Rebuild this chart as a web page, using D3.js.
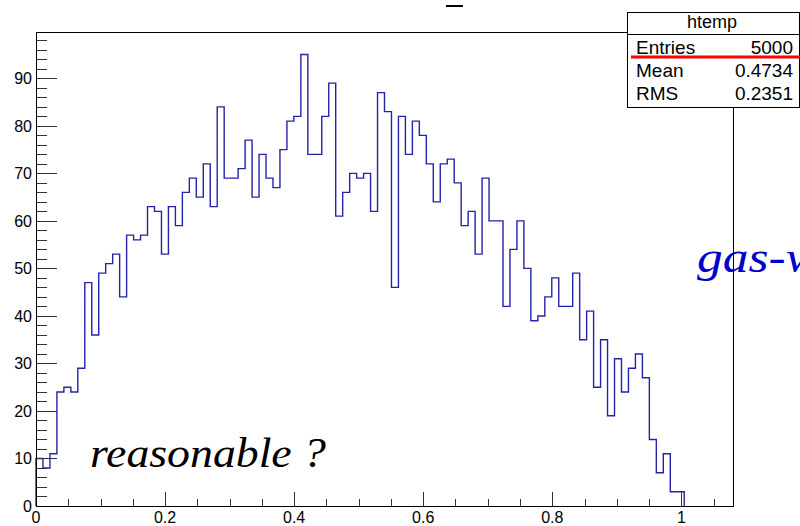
<!DOCTYPE html>
<html>
<head>
<meta charset="utf-8">
<script src="https://cdn.jsdelivr.net/npm/d3@7"></script>
<style>
  body { margin: 0; background: #fff; }
  svg { display: block; }
</style>
</head>
<body>
<div id="chart"></div>
<script>
// histogram "htemp": 100 bins between xMin and xMax
const xMin = 0, xMax = 1.08, nBins = 100;
const counts = [
  10, 8, 11, 24, 25, 24, 29, 47, 36, 49,
  51, 53, 44, 57, 56, 57, 63, 62, 53, 63,
  59, 66, 69, 65, 72, 63, 84, 69, 69, 71,
  77, 65, 74, 69, 67, 75, 81, 82, 95, 74,
  74, 82, 89, 61, 66, 70, 69, 70, 62, 87,
  83, 46, 82, 74, 81, 78, 72, 64, 72, 73,
  68, 59, 62, 53, 69, 60, 60, 42, 54, 60,
  50, 39, 40, 44, 48, 42, 42, 49, 35, 41,
  25, 35, 19, 31, 24, 29, 32, 27, 14, 7,
  11, 3, 3, 0, 0, 0, 0, 0, 0, 0
];
const yMax = 99.75;
const xMajor = [0, 0.2, 0.4, 0.6, 0.8, 1];
const yMajor = [0, 10, 20, 30, 40, 50, 60, 70, 80, 90];
const statLabels = ["Entries", "Mean", "RMS"];
const statValues = ["5000", "0.4734", "0.2351"];

const W = 800, H = 526;
const margin = {top: 32, right: 67, bottom: 20, left: 36};
const x0 = margin.left, x1 = W - margin.right;
const y0 = H - margin.bottom, y1 = margin.top;

const svg = d3.select("#chart").append("svg")
    .attr("width", W)
    .attr("height", H)
    .attr("font-family", "Liberation Sans");

const x = d3.scaleLinear().domain([xMin, xMax]).range([x0, x1]);
const y = d3.scaleLinear().domain([0, yMax]).range([y0, y1]);
const bw = (xMax - xMin) / nBins;

// small leftover of a cut title at the very top
svg.append("line")
    .attr("x1", 446).attr("x2", 463).attr("y1", 6).attr("y2", 6)
    .attr("stroke", "#000").attr("stroke-width", 2);

// histogram outline (stops after last filled bin)
let last = counts.length - 1;
while (last > 0 && counts[last] === 0) last--;
let pts = [[x(xMin), y(0)]];
counts.slice(0, last + 1).forEach((c, i) => {
    pts.push([x(xMin + i * bw), y(c)]);
    pts.push([x(xMin + (i + 1) * bw), y(c)]);
});
pts.push([x(xMin + (last + 1) * bw), y(0)]);

svg.append("path")
    .attr("d", d3.line()(pts))
    .attr("fill", "none")
    .attr("stroke", "#2424a8")
    .attr("stroke-width", 1.4);

// ticks (inside the frame, ROOT style)
const tickCol = "#333";
const yMinor = d3.range(0, yMax, 2);
svg.append("g").selectAll("line")
    .data(yMinor)
    .join("line")
    .attr("x1", x0).attr("x2", d => x0 + (d % 10 === 0 ? 21 : 11))
    .attr("y1", d => Math.round(y(d)) + 0.5).attr("y2", d => Math.round(y(d)) + 0.5)
    .attr("stroke", tickCol);

const xMinor = d3.range(0, xMax, 0.05).map(d => +d.toFixed(2));
svg.append("g").selectAll("line")
    .data(xMinor)
    .join("line")
    .attr("x1", d => Math.round(x(d)) + 0.5).attr("x2", d => Math.round(x(d)) + 0.5)
    .attr("y1", y0).attr("y2", d => y0 - (Math.abs(d * 5 - Math.round(d * 5)) < 1e-6 ? 14 : 7))
    .attr("stroke", tickCol);

// frame
svg.append("rect")
    .attr("x", x0 + 0.5).attr("y", y1 + 0.5)
    .attr("width", x1 - x0).attr("height", y0 - y1)
    .attr("fill", "none").attr("stroke", "#000");

// tick labels
svg.append("g").selectAll("text")
    .data(yMajor)
    .join("text")
    .attr("x", x0 - 4)
    .attr("y", d => y(d) + 6)
    .attr("text-anchor", "end")
    .attr("font-size", 16)
    .text(d => d);

svg.append("g").selectAll("text")
    .data(xMajor)
    .join("text")
    .attr("x", d => x(d))
    .attr("y", 523)
    .attr("text-anchor", "middle")
    .attr("font-size", 16)
    .text(d => d3.format("~g")(d));

// stats box
const box = {left: 627, top: 12, right: 799, bottom: 107};
svg.append("rect")
    .attr("x", box.left + 0.5).attr("y", box.top + 0.5)
    .attr("width", box.right - box.left).attr("height", box.bottom - box.top)
    .attr("fill", "#fff").attr("stroke", "#000");
svg.append("line")
    .attr("x1", box.left).attr("x2", box.right)
    .attr("y1", 34.5).attr("y2", 34.5)
    .attr("stroke", "#000");
svg.append("text")
    .attr("x", 712).attr("y", 28)
    .attr("text-anchor", "middle")
    .attr("font-size", 18)
    .text("htemp");

const rowY = d3.scalePoint().domain(statLabels).range([54, 100]);
svg.append("g").selectAll("text")
    .data(statLabels)
    .join("text")
    .attr("x", 636).attr("y", d => rowY(d))
    .attr("font-size", 19)
    .text(d => d);
svg.append("g").selectAll("text")
    .data(statValues)
    .join("text")
    .attr("x", 793).attr("y", (d, i) => rowY(statLabels[i]))
    .attr("text-anchor", "end")
    .attr("font-size", 19)
    .text(d => d);

// red underline annotation
svg.append("line")
    .attr("x1", 631).attr("x2", 800)
    .attr("y1", 57).attr("y2", 57)
    .attr("stroke", "#f00").attr("stroke-width", 3);

// handwritten-ish notes, Times italic
svg.append("text")
    .attr("x", 90).attr("y", 467)
    .attr("font-family", "Liberation Serif")
    .attr("font-style", "italic")
    .attr("font-size", 42)
    .attr("textLength", 236)
    .attr("lengthAdjust", "spacingAndGlyphs")
    .text("reasonable ?");

svg.append("text")
    .attr("transform", "translate(697,272) scale(1.17,1)")
    .attr("font-family", "Liberation Serif")
    .attr("font-style", "italic")
    .attr("font-size", 44)
    .attr("fill", "#0000cc")
    .text("gas-w");
</script>
</body>
</html>
